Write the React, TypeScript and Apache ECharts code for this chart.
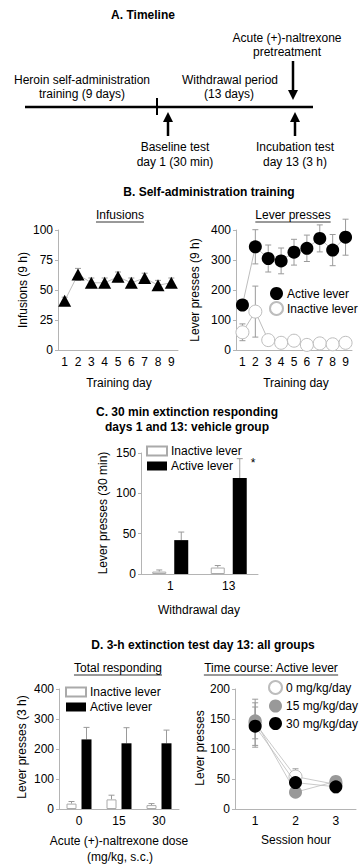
import React, { useEffect, useRef } from "react";
import * as echarts from "echarts";

const FONT = "'Liberation Sans', Arial, Helvetica, sans-serif";

// Panel B: self-administration training
const trainingDays = ["1", "2", "3", "4", "5", "6", "7", "8", "9"];
const infusions = [41, 63, 56, 56, 61, 56, 60, 54, 56];
const infusionsErr = [3, 5, 4, 4, 4, 4, 4, 4, 4];
const activeLever = [150, 344, 305, 297, 326, 339, 372, 333, 376];
const activeLeverErr = [14, 57, 45, 43, 43, 44, 45, 52, 60];
const inactiveLever = [59, 128, 33, 24, 31, 17, 22, 19, 24];
const inactiveLeverErr = [28, 85, 8, 6, 8, 4, 5, 4, 5];

// Panel C: 30 min extinction, vehicle group
const withdrawalDays = ["1", "13"];
const inactiveC = [3, 8];
const inactiveCErr = [2, 2.5];
const activeC = [42, 119];
const activeCErr = [10, 24];

// Panel D left: total responding
const doses = ["0", "15", "30"];
const inactiveD = [18, 32, 13];
const inactiveDErr = [7, 14, 5];
const activeD = [232, 219, 219];
const activeDErr = [40, 52, 44];

// Panel D right: time course, active lever
const hours = ["1", "2", "3"];
const dose0 = [143, 54, 41];
const dose0Err = [40, 13, 6];
const dose15 = [147, 28, 46];
const dose15Err = [30, 5, 5];
const dose30 = [138, 44, 37];
const dose30Err = [32, 8, 10];

const legendLabels: Record<string, string> = {
  bActive: "Active lever",
  bInactive: "Inactive lever",
  cInactive: "Inactive lever",
  cActive: "Active lever",
  dInactive: "Inactive lever",
  dActive: "Active lever",
  d0: "0 mg/kg/day",
  d15: "15 mg/kg/day",
  d30: "30 mg/kg/day",
};

const AXIS = "#b4b4b4";
const ERR = "#9a9a9a";

function measure(text: string, font: string) {
  const c = document.createElement("canvas").getContext("2d");
  if (!c) return text.length * 6;
  c.font = font;
  return c.measureText(text).width;
}

function txt(text: string, x: number, y: number, o: any = {}) {
  return {
    type: "text",
    x,
    y,
    rotation: o.rot || 0,
    silent: true,
    style: {
      text,
      fill: "#000",
      fontSize: o.size || 12,
      fontWeight: o.bold ? "bold" : "normal",
      fontFamily: FONT,
      textAlign: o.align || "center",
      textVerticalAlign: "middle",
      verticalAlign: "middle",
    },
  };
}

function underlined(text: string, cx: number, y: number) {
  const w = measure(text, `12px ${FONT}`);
  return [
    txt(text, cx, y),
    {
      type: "line",
      silent: true,
      shape: { x1: cx - w / 2, y1: y + 7, x2: cx + w / 2, y2: y + 7 },
      style: { stroke: "#000", lineWidth: 0.8 },
    },
  ];
}

function line(x1: number, y1: number, x2: number, y2: number, w = 2.5) {
  return { type: "line", silent: true, shape: { x1, y1, x2, y2 }, style: { stroke: "#000", lineWidth: w } };
}

function upArrow(x: number, tip: number, end: number) {
  return [
    line(x, tip + 8, x, end),
    { type: "polygon", silent: true, shape: { points: [[x, tip], [x - 5, tip + 10], [x + 5, tip + 10]] }, style: { fill: "#000" } },
  ];
}

function downArrow(x: number, start: number, tip: number) {
  return [
    line(x, start, x, tip - 8),
    { type: "polygon", silent: true, shape: { points: [[x, tip], [x - 5, tip - 10], [x + 5, tip - 10]] }, style: { fill: "#000" } },
  ];
}

function errRender(offset: number, cap: number, upOnly: boolean) {
  return (params: any, api: any) => {
    const i = api.value(0);
    const v = api.value(1);
    const e = api.value(2);
    const top = api.coord([i, v + e]);
    const mid = api.coord([i, v]);
    const bot = api.coord([i, v - e]);
    const x = top[0] + offset;
    const y0 = upOnly ? mid[1] : bot[1];
    const style = { stroke: ERR, lineWidth: 1 };
    const children: any[] = [
      { type: "line", shape: { x1: x, y1: y0, x2: x, y2: top[1] }, style },
      { type: "line", shape: { x1: x - cap, y1: top[1], x2: x + cap, y2: top[1] }, style },
    ];
    if (!upOnly) children.push({ type: "line", shape: { x1: x - cap, y1: bot[1], x2: x + cap, y2: bot[1] }, style });
    return { type: "group", children };
  };
}

function errSeries(idx: number, vals: number[], errs: number[], offset: number, cap: number, upOnly: boolean) {
  return {
    type: "custom",
    xAxisIndex: idx,
    yAxisIndex: idx,
    z: 1,
    silent: true,
    clip: false,
    renderItem: errRender(offset, cap, upOnly),
    encode: { x: 0, y: 1 },
    data: vals.map((v, i) => [i, v, errs[i]]),
  };
}

function catAxis(idx: number, data: string[]) {
  return {
    type: "category",
    gridIndex: idx,
    data,
    boundaryGap: true,
    axisLine: { lineStyle: { color: AXIS, width: 1 } },
    axisTick: { alignWithLabel: true, length: 4, lineStyle: { color: AXIS } },
    axisLabel: { fontSize: 12, color: "#000", fontFamily: FONT, margin: 6 },
  };
}

function valAxis(idx: number, max: number, interval: number) {
  return {
    type: "value",
    gridIndex: idx,
    min: 0,
    max,
    interval,
    splitLine: { show: false },
    axisLine: { show: true, lineStyle: { color: AXIS, width: 1 } },
    axisTick: { show: true, length: 3, lineStyle: { color: AXIS } },
    axisLabel: { fontSize: 12, color: "#000", fontFamily: FONT, margin: 5 },
  };
}

function legend(data: string[], left: number, top: number, w: number, h: number, gap: number, icon: string) {
  return {
    data,
    left,
    top,
    orient: "vertical",
    itemWidth: w,
    itemHeight: h,
    itemGap: gap,
    icon,
    padding: 0,
    selectedMode: false,
    formatter: (n: string) => legendLabels[n] || n,
    textStyle: { fontSize: 12, color: "#000", fontFamily: FONT, padding: [0, 0, 0, -1] },
  };
}

export default function App() {
  const ref = useRef<HTMLDivElement>(null);
  useEffect(() => {
    document.body.style.margin = "0";
    if (!ref.current) return;
    const chart = echarts.init(ref.current, null, { renderer: "svg" });

    const graphic: any[] = [
      // Panel A
      txt("A. Timeline", 143, 15, { bold: true }),
      line(25, 107, 313, 107, 2.5),
      line(157, 98, 157, 115, 2),
      ...upArrow(168, 112, 136),
      ...upArrow(295, 112, 136),
      ...downArrow(293, 61, 100),
      txt("Acute (+)-naltrexone", 287, 38),
      txt("pretreatment", 287, 52),
      txt("Heroin self-administration", 82, 80),
      txt("training (9 days)", 82, 94),
      txt("Withdrawal period", 230, 80),
      txt("(13 days)", 229, 94),
      txt("Baseline test", 175, 147),
      txt("day 1 (30 min)", 175, 162),
      txt("Incubation test", 295, 147),
      txt("day 13 (3 h)", 295, 162),
      // Panel B
      txt("B. Self-administration training", 209, 192, { bold: true }),
      ...underlined("Infusions", 120, 215),
      ...underlined("Lever presses", 293, 215),
      txt("Infusions (9 h)", 23, 290, { rot: Math.PI / 2 }),
      txt("Lever presses (9 h)", 195, 290, { rot: Math.PI / 2 }),
      txt("Training day", 119, 383),
      txt("Training day", 296, 383),
      // Panel C
      txt("C. 30 min extinction responding", 187, 412, { bold: true }),
      txt("days 1 and 13: vehicle group", 187, 427, { bold: true }),
      txt("Lever presses (30 min)", 103, 513, { rot: Math.PI / 2 }),
      txt("Withdrawal day", 199, 610),
      txt("*", 253, 463),
      // Panel D
      txt("D. 3-h extinction test day 13: all groups", 203, 645, { bold: true }),
      ...underlined("Total responding", 118, 668),
      ...underlined("Time course: Active lever", 271, 668),
      txt("Lever presses (3 h)", 22, 747, { rot: Math.PI / 2 }),
      txt("Acute (+)-naltrexone dose", 119, 841),
      txt("(mg/kg, s.c.)", 120, 857),
      txt("Lever presses", 200, 748, { rot: Math.PI / 2 }),
      txt("Session hour", 296, 840),
    ];

    const circle = 13;
    const option: any = {
      animation: false,
      textStyle: { fontFamily: FONT },
      graphic,
      grid: [
        { left: 58, top: 230, width: 120, height: 120 },
        { left: 236, top: 230, width: 116, height: 120 },
        { left: 141, top: 453, width: 117, height: 121 },
        { left: 59, top: 689, width: 120, height: 120 },
        { left: 235, top: 689, width: 121, height: 120 },
      ],
      xAxis: [
        catAxis(0, trainingDays),
        catAxis(1, trainingDays),
        catAxis(2, withdrawalDays),
        catAxis(3, doses),
        catAxis(4, hours),
      ],
      yAxis: [
        valAxis(0, 100, 25),
        valAxis(1, 400, 100),
        valAxis(2, 150, 50),
        valAxis(3, 400, 100),
        valAxis(4, 200, 50),
      ],
      legend: [
        legend(["bActive", "bInactive"], 269, 287, circle, circle, 1, "circle"),
        legend(["cInactive", "cActive"], 146, 445, 20, 9, 3, "rect"),
        legend(["dInactive", "dActive"], 65, 686, 20, 9, 3, "rect"),
        legend(["d0", "d15", "d30"], 268, 680, 13, 13, 4.5, "circle"),
      ],
      series: [
        // B left
        errSeries(0, infusions, infusionsErr, 0, 3, false),
        {
          name: "infusions",
          type: "line",
          xAxisIndex: 0,
          yAxisIndex: 0,
          data: infusions,
          symbol: "triangle",
          symbolSize: [13, 12],
          itemStyle: { color: "#000" },
          lineStyle: { color: "#bdbdbd", width: 1 },
          z: 3,
        },
        // B right
        errSeries(1, activeLever, activeLeverErr, 0, 3, false),
        errSeries(1, inactiveLever, inactiveLeverErr, 0, 3, false),
        {
          name: "bInactive",
          type: "line",
          xAxisIndex: 1,
          yAxisIndex: 1,
          data: inactiveLever,
          symbol: "circle",
          symbolSize: circle,
          itemStyle: { color: "#fff", borderColor: "#bdbdbd", borderWidth: 1 },
          lineStyle: { color: "#bdbdbd", width: 1 },
          z: 3,
        },
        {
          name: "bActive",
          type: "line",
          xAxisIndex: 1,
          yAxisIndex: 1,
          data: activeLever,
          symbol: "circle",
          symbolSize: circle,
          itemStyle: { color: "#000", borderColor: "#000", borderWidth: 0 },
          lineStyle: { color: "#bdbdbd", width: 1 },
          z: 4,
        },
        // C
        {
          name: "cInactive",
          type: "bar",
          xAxisIndex: 2,
          yAxisIndex: 2,
          data: inactiveC,
          barWidth: 14,
          barGap: "57%",
          itemStyle: { color: "#fff", borderColor: "#aaa", borderWidth: 1 },
          z: 3,
        },
        {
          name: "cActive",
          type: "bar",
          xAxisIndex: 2,
          yAxisIndex: 2,
          data: activeC,
          barWidth: 14,
          barGap: "57%",
          itemStyle: { color: "#000" },
          z: 3,
        },
        errSeries(2, inactiveC, inactiveCErr, -11, 3, true),
        errSeries(2, activeC, activeCErr, 11, 3, true),
        // D left
        {
          name: "dInactive",
          type: "bar",
          xAxisIndex: 3,
          yAxisIndex: 3,
          data: inactiveD,
          barWidth: 10,
          barGap: "50%",
          itemStyle: { color: "#fff", borderColor: "#aaa", borderWidth: 1 },
          z: 3,
        },
        {
          name: "dActive",
          type: "bar",
          xAxisIndex: 3,
          yAxisIndex: 3,
          data: activeD,
          barWidth: 10,
          barGap: "50%",
          itemStyle: { color: "#000" },
          z: 3,
        },
        errSeries(3, inactiveD, inactiveDErr, -7.5, 3, true),
        errSeries(3, activeD, activeDErr, 7.5, 3, true),
        // D right
        errSeries(4, dose0, dose0Err, 0, 3, false),
        errSeries(4, dose15, dose15Err, 0, 3, false),
        errSeries(4, dose30, dose30Err, 0, 3, false),
        {
          name: "d0",
          type: "line",
          xAxisIndex: 4,
          yAxisIndex: 4,
          data: dose0,
          symbol: "circle",
          symbolSize: circle,
          itemStyle: { color: "#fff", borderColor: "#bdbdbd", borderWidth: 1 },
          lineStyle: { color: "#bdbdbd", width: 0.8 },
          z: 3,
        },
        {
          name: "d15",
          type: "line",
          xAxisIndex: 4,
          yAxisIndex: 4,
          data: dose15,
          symbol: "circle",
          symbolSize: circle,
          itemStyle: { color: "#999", borderColor: "#999", borderWidth: 0 },
          lineStyle: { color: "#bdbdbd", width: 0.8 },
          z: 4,
        },
        {
          name: "d30",
          type: "line",
          xAxisIndex: 4,
          yAxisIndex: 4,
          data: dose30,
          symbol: "circle",
          symbolSize: circle,
          itemStyle: { color: "#000", borderColor: "#000", borderWidth: 0 },
          lineStyle: { color: "#bdbdbd", width: 0.8 },
          z: 5,
        },
      ],
    };
    chart.setOption(option);
    return () => chart.dispose();
  }, []);
  return <div ref={ref} style={{ width: 359, height: 865 }} />;
}
